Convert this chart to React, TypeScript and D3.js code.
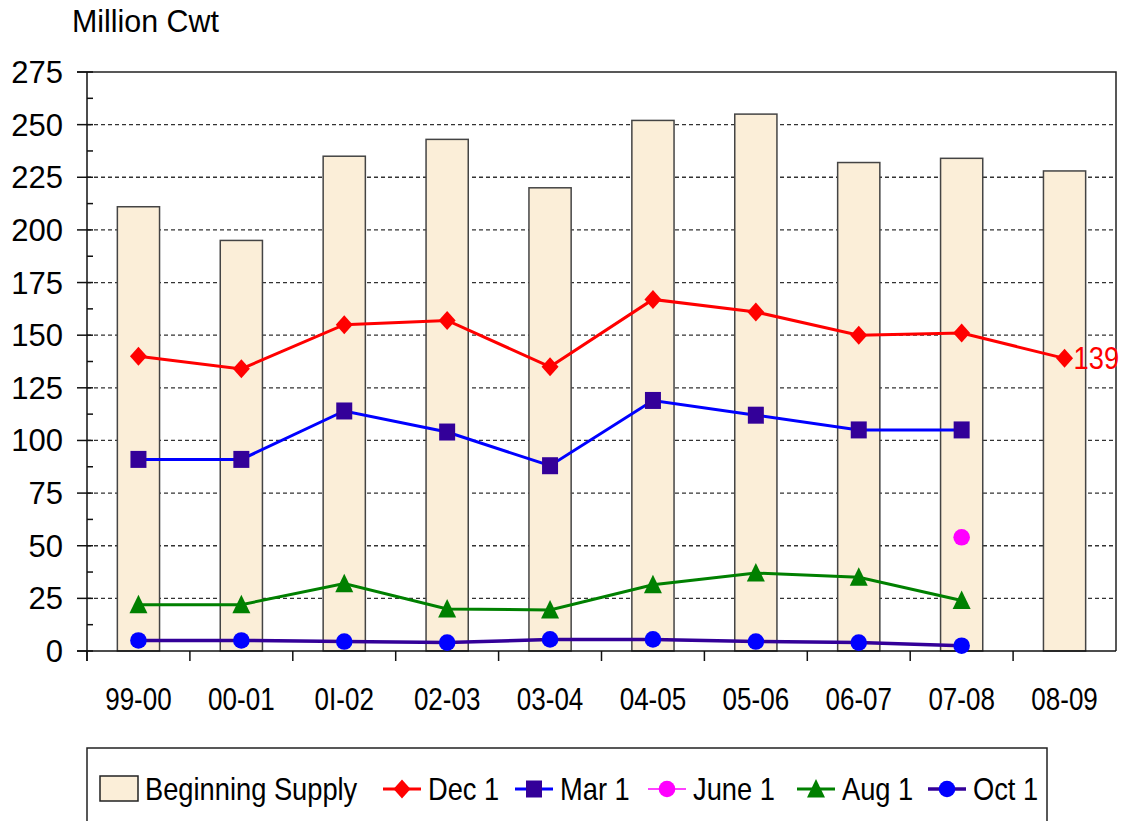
import React, { useEffect, useRef } from "react";
import * as d3 from "d3";

const seasons = ["99-00", "00-01", "0I-02", "02-03", "03-04", "04-05", "05-06", "06-07", "07-08", "08-09"];
const beginningSupply = [211, 195, 235, 243, 220, 252, 255, 232, 234, 228];
const dec1 = [140, 134, 155, 157, 135, 167, 161, 150, 151, 139];
const mar1 = [91, 91, 114, 104, 88, 119, 112, 105, 105, null];
const june1 = [null, null, null, null, null, null, null, null, 54, null];
const aug1 = [22, 22, 32, 20, 19.5, 31.5, 37, 35, 24, null];
const oct1 = [5, 5, 4.5, 4, 5.5, 5.5, 4.5, 4, 2.5, null];
const yTicks = [0, 25, 50, 75, 100, 125, 150, 175, 200, 225, 250, 275];

const FONT = "'Liberation Sans', Arial, Helvetica, sans-serif";

type Marker = "diamond" | "square" | "circle" | "triangle";

function markerPath(kind: Marker): string {
  if (kind === "diamond") return "M0,-9.5L8.5,0L0,9.5L-8.5,0Z";
  if (kind === "square") return "M-8,-8.5L8,-8.5L8,8.5L-8,8.5Z";
  if (kind === "triangle") return "M0,-10L9,8.5L-9,8.5Z";
  return d3.arc()({ innerRadius: 0, outerRadius: 8.3, startAngle: 0, endAngle: Math.PI * 2 } as any) as string;
}

const series = [
  { name: "Dec 1", values: dec1, line: "#ff0000", marker: "#ff0000", shape: "diamond" as Marker, width: 3 },
  { name: "Mar 1", values: mar1, line: "#0000ff", marker: "#330099", shape: "square" as Marker, width: 3 },
  { name: "June 1", values: june1, line: "#ff00ff", marker: "#ff00ff", shape: "circle" as Marker, width: 1.5 },
  { name: "Aug 1", values: aug1, line: "#008000", marker: "#008000", shape: "triangle" as Marker, width: 3 },
  { name: "Oct 1", values: oct1, line: "#330099", marker: "#0000ff", shape: "circle" as Marker, width: 3.5 },
];

export default function App() {
  const ref = useRef<SVGSVGElement>(null);

  useEffect(() => {
    const svg = d3.select(ref.current);
    svg.selectAll("*").remove();

    const left = 87, right = 1116, top = 72, bottom = 651;
    const x = d3.scaleBand().domain(seasons).range([left, right]).padding(0);
    const y = d3.scaleLinear().domain([0, 275]).range([bottom, top]);
    const barW = x.bandwidth() * 0.41;
    const cx = (s: string) => (x(s) as number) + x.bandwidth() / 2;

    // title
    svg.append("text")
      .attr("transform", "translate(72,32) scale(0.95,1)")
      .attr("font-family", FONT).attr("font-size", 32).attr("fill", "#000")
      .text("Million Cwt");

    // gridlines
    svg.append("g")
      .selectAll("line")
      .data(yTicks.filter((t) => t > 0 && t < 275))
      .enter()
      .append("line")
      .attr("x1", left).attr("x2", right)
      .attr("y1", (d) => y(d)).attr("y2", (d) => y(d))
      .attr("stroke", "#333").attr("stroke-width", 1.3)
      .attr("stroke-dasharray", "4,3");

    // plot border top/right
    svg.append("path")
      .attr("d", `M${left - 10},${top}H${right}V${bottom}`)
      .attr("fill", "none").attr("stroke", "#222").attr("stroke-width", 1.5);

    // bars
    svg.append("g")
      .selectAll("rect")
      .data(beginningSupply)
      .enter()
      .append("rect")
      .attr("x", (d, i) => cx(seasons[i]) - barW / 2)
      .attr("y", (d) => y(d))
      .attr("width", barW)
      .attr("height", (d) => bottom - y(d))
      .attr("fill", "#fbeed8")
      .attr("stroke", "#444").attr("stroke-width", 1.5);

    // y axis
    const yAxis = svg.append("g");
    yAxis.append("line").attr("x1", left).attr("x2", left).attr("y1", top).attr("y2", bottom + 10)
      .attr("stroke", "#111").attr("stroke-width", 1.5);
    yTicks.forEach((t) => {
      yAxis.append("line").attr("x1", left - 10).attr("x2", left + 6).attr("y1", y(t)).attr("y2", y(t))
        .attr("stroke", "#111").attr("stroke-width", 1.5);
      if (t < 275) {
        yAxis.append("line").attr("x1", left).attr("x2", left + 6)
          .attr("y1", y(t + 12.5)).attr("y2", y(t + 12.5))
          .attr("stroke", "#111").attr("stroke-width", 1.5);
      }
      yAxis.append("text")
        .attr("x", 63).attr("y", y(t) + 11)
        .attr("text-anchor", "end")
        .attr("font-family", FONT).attr("font-size", 31).attr("fill", "#000")
        .text(t);
    });

    // x axis
    const xAxis = svg.append("g");
    xAxis.append("line").attr("x1", left - 10).attr("x2", right).attr("y1", bottom).attr("y2", bottom)
      .attr("stroke", "#111").attr("stroke-width", 1.5);
    seasons.forEach((s) => {
      xAxis.append("line").attr("x1", x(s) as number).attr("x2", x(s) as number)
        .attr("y1", bottom).attr("y2", bottom + 10)
        .attr("stroke", "#111").attr("stroke-width", 1.5);
      xAxis.append("text")
        .attr("transform", `translate(${cx(s)},710) scale(0.84,1)`)
        .attr("text-anchor", "middle")
        .attr("font-family", FONT).attr("font-size", 31).attr("fill", "#000")
        .text(s);
    });

    // lines and markers
    const drawOrder = [series[4], series[3], series[2], series[1], series[0]];
    drawOrder.forEach((sr) => {
      const pts = sr.values
        .map((v, i) => ({ v, s: seasons[i] }))
        .filter((p) => p.v !== null) as { v: number; s: string }[];
      const line = d3.line<{ v: number; s: string }>()
        .x((p) => cx(p.s))
        .y((p) => y(p.v));
      svg.append("path")
        .attr("d", line(pts) as string)
        .attr("fill", "none")
        .attr("stroke", sr.line)
        .attr("stroke-width", sr.width);
      svg.append("g")
        .selectAll("path")
        .data(pts)
        .enter()
        .append("path")
        .attr("d", markerPath(sr.shape))
        .attr("transform", (p) => `translate(${cx(p.s)},${y(p.v)})`)
        .attr("fill", sr.marker);
    });

    // end label
    svg.append("text")
      .attr("transform", `translate(${cx(seasons[9]) + 9},${y(dec1[9]) + 11}) scale(0.88,1)`)
      .attr("font-family", FONT).attr("font-size", 31).attr("fill", "#ff0000")
      .text(dec1[9]);

    // legend
    const lg = svg.append("g");
    lg.append("rect").attr("x", 87).attr("y", 748).attr("width", 960).attr("height", 90)
      .attr("fill", "#fff").attr("stroke", "#222").attr("stroke-width", 1.5);
    lg.append("rect").attr("x", 100).attr("y", 776).attr("width", 38).attr("height", 25)
      .attr("fill", "#fbeed8").attr("stroke", "#222").attr("stroke-width", 1.5);
    lg.append("text")
      .attr("transform", "translate(145,800) scale(0.88,1)")
      .attr("font-family", FONT).attr("font-size", 31).attr("fill", "#000")
      .text("Beginning Supply");
    const legendX = [383, 515, 648, 797, 928];
    series.forEach((sr, i) => {
      const lx = legendX[i];
      lg.append("line").attr("x1", lx).attr("x2", lx + 38).attr("y1", 789).attr("y2", 789)
        .attr("stroke", sr.line).attr("stroke-width", sr.width);
      lg.append("path").attr("d", markerPath(sr.shape))
        .attr("transform", `translate(${lx + 19},789)`)
        .attr("fill", sr.marker);
      lg.append("text")
        .attr("transform", `translate(${lx + 45},800) scale(0.88,1)`)
        .attr("font-family", FONT).attr("font-size", 31).attr("fill", "#000")
        .text(sr.name);
    });
  }, []);

  return (
    <svg
      ref={ref}
      width={1121}
      height={821}
      style={{ position: "absolute", left: 0, top: 0, background: "#fff" }}
    />
  );
}
